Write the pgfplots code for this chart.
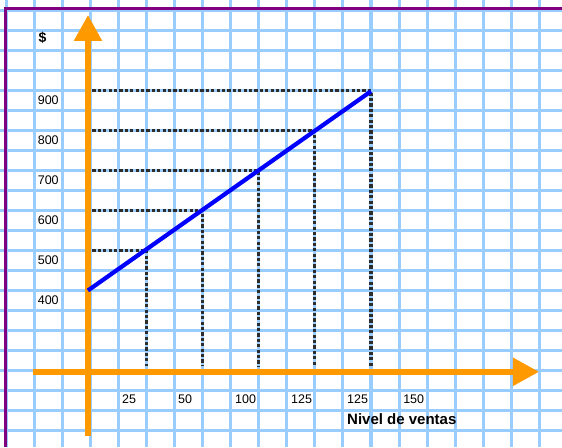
\documentclass[border=0pt]{standalone}
\usepackage{pgfplots}
\pgfplotsset{compat=1.18}
\usepackage{fontspec}
\setmainfont{Liberation Sans}
\usetikzlibrary{arrows.meta}
\definecolor{gridblue}{RGB}{153,204,255}
\definecolor{axorange}{RGB}{255,153,0}
\definecolor{bordpurple}{RGB}{128,0,128}
\definecolor{dotgray}{RGB}{45,45,45}
\begin{document}
\begin{tikzpicture}
\begin{axis}[
  scale only axis, width=562pt, height=447pt,
  xmin=-40.27, xmax=210.09, ymin=8.75, ymax=1126.25,
  xtick={-37.5,-25,...,200}, ytick={50,100,...,1100},
  xticklabels={}, yticklabels={},
  grid=major, major grid style={gridblue, line width=3.1pt},
  axis line style={draw=none}, major tick length=0pt,
  clip=false,
]
% border
\addplot[bordpurple, line width=3pt, line join=miter] coordinates {(-37.7,8.75) (-37.7,1103.75) (210.09,1103.75)};
% orange axes
\addplot[axorange, line width=5.5pt, -{Triangle[width=27pt,length=26pt]}] coordinates {(-1.07,36.25) (-1.07,1088.75)};
\addplot[axorange, line width=5.5pt, -{Triangle[width=27pt,length=26pt]}] coordinates {(-25.57,196.75) (199.84,196.75)};
% dotted guides
\addplot[dotgray, line width=3.2pt, dash pattern=on 3.2pt off 2.2pt] coordinates {(0.85,500) (25,500) (25,210)};
\addplot[dotgray, line width=3.2pt, dash pattern=on 3.2pt off 2.2pt] coordinates {(0.85,600) (50,600) (50,210)};
\addplot[dotgray, line width=3.2pt, dash pattern=on 3.2pt off 2.2pt] coordinates {(0.85,700) (75,700) (75,210)};
\addplot[dotgray, line width=3.2pt, dash pattern=on 3.2pt off 2.2pt] coordinates {(0.85,800) (100,800) (100,210)};
\addplot[dotgray, line width=3.2pt, dash pattern=on 3.2pt off 2.2pt] coordinates {(0.85,900) (125,900) (125,210)};
% blue line
\addplot[blue, line width=4.2pt] coordinates {(-1.1,400) (125,898)};
% labels
\begin{scope}[every node/.style={inner sep=0pt, anchor=west, font=\fontsize{12.5}{14}\selectfont}]
\node at (axis cs:-23.5,875) {900};
\node at (axis cs:-23.5,775) {800};
\node at (axis cs:-23.5,675) {700};
\node at (axis cs:-23.5,575) {600};
\node at (axis cs:-23.5,475) {500};
\node at (axis cs:-23.5,375) {400};
\node at (axis cs:14.08,128.75) {25};
\node at (axis cs:39.02,128.75) {50};
\node at (axis cs:64.41,128.75) {100};
\node at (axis cs:89.36,128.75) {125};
\node at (axis cs:114.3,128.75) {125};
\node at (axis cs:139.3,128.75) {150};
\end{scope}
\node[inner sep=0pt, anchor=west, font=\fontsize{15}{17}\selectfont\bfseries] at (axis cs:114.3,78.75) {Nivel de ventas};
\node[inner sep=0pt, font=\fontsize{14}{16}\selectfont\bfseries] at (axis cs:-21.34,1031.25) {\$};
\end{axis}
\pgfresetboundingbox
\useasboundingbox (current axis.south west) rectangle (current axis.north east);
\end{tikzpicture}
\end{document}
